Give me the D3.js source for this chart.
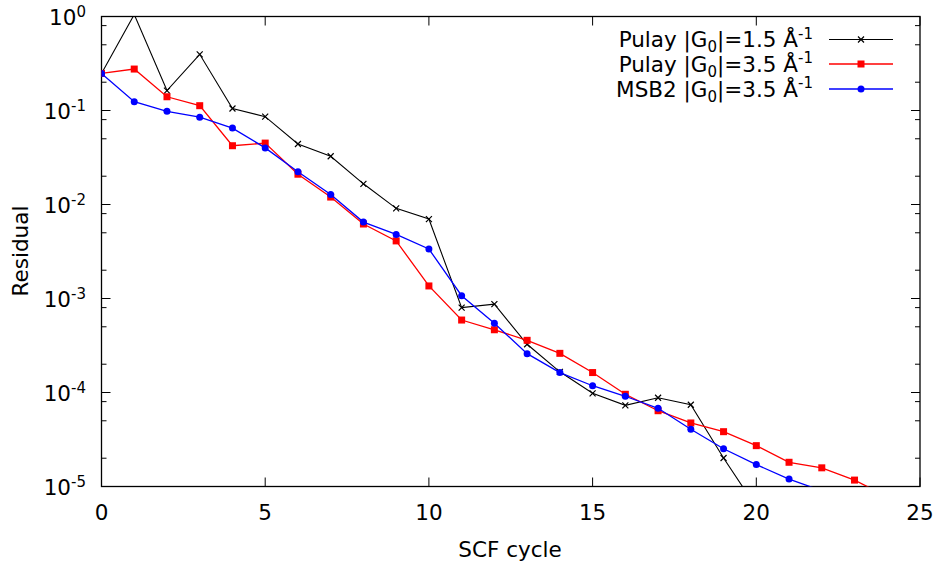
<!DOCTYPE html>
<html>
<head>
<meta charset="utf-8">
<script src="https://cdn.jsdelivr.net/npm/d3@7"></script>
<style>
  body { margin: 0; background: #fff; }
  svg { font-family: "DejaVu Sans", sans-serif; }
</style>
</head>
<body>
<div id="chart"></div>
<script>
// SCF residual convergence, log y
const cycles = d3.range(0, 25);
const pulay15 = [0.248, 1.05, 0.163, 0.396, 0.105, 0.086, 0.044, 0.0326, 0.0166, 0.0091, 0.0070,
  0.00080, 0.00087, 0.000326, 0.000166, 0.000098, 0.000073, 0.000088, 0.000074, 0.0000201, 0.000006];
const pulay35 = [0.248, 0.276, 0.140, 0.1125, 0.0422, 0.045, 0.021, 0.012, 0.0062, 0.0041, 0.00136,
  0.00059, 0.000465, 0.000359, 0.000261, 0.000163, 0.0000957, 0.000064, 0.0000474, 0.0000383,
  0.0000272, 0.0000181, 0.0000158, 0.0000117, 0.0000078];
const msb235 = [0.248, 0.124, 0.098, 0.085, 0.065, 0.040, 0.0223, 0.0128, 0.0065, 0.0048, 0.00336,
  0.00107, 0.000545, 0.000259, 0.000163, 0.000118, 0.0000912, 0.0000679, 0.0000406, 0.0000252,
  0.0000171, 0.000012, 0.000009];
const seriesNames = [["Pulay |G", "0", "|=1.5 Å", "-1"], ["Pulay |G", "0", "|=3.5 Å", "-1"], ["MSB2 |G", "0", "|=3.5 Å", "-1"]];
const seriesColors = ["#000000", "#ff0000", "#0000ff"];
const seriesMarks = ["cross", "square", "circle"];
const xTicks = [0, 5, 10, 15, 20, 25];
const yTicks = [0, -1, -2, -3, -4, -5];

const W = 940, H = 567;
const FS = '21.5px', FSS = '15px';
const m = { left: 101.5, right: 20, top: 16.5, bottom: 80.5 };
const x = d3.scaleLinear().domain([0, 25]).range([m.left, W - m.right]);
const y = d3.scaleLog().domain([1e-5, 1]).range([H - m.bottom, m.top]);

const svg = d3.select('#chart').append('svg').attr('width', W).attr('height', H);
svg.append('defs').append('clipPath').attr('id', 'clip').append('rect')
  .attr('x', x(0)).attr('y', y(1)).attr('width', x(25) - x(0)).attr('height', y(1e-5) - y(1));

const g = svg.append('g');
const x0 = x(0), x1 = x(25), yb = y(1e-5), yt = y(1);

// ticks: major inward 9px both sides, minor 5px at 2,5,8
xTicks.forEach(v => {
  g.append('line').attr('x1', x(v)).attr('x2', x(v)).attr('y1', yb).attr('y2', yb - 9).attr('stroke', '#000').attr('stroke-width', 1);
  g.append('line').attr('x1', x(v)).attr('x2', x(v)).attr('y1', yt).attr('y2', yt + 9).attr('stroke', '#000').attr('stroke-width', 1);
  g.append('text').attr('x', x(v)).attr('y', yb + 33).attr('text-anchor', 'middle').style('font-size', FS).text(v);
});
yTicks.forEach(e => {
  const v = Math.pow(10, e);
  [[x0, 9], [x1, -9]].forEach(([xx, l]) => {
    g.append('line').attr('x1', xx).attr('x2', xx + l).attr('y1', y(v)).attr('y2', y(v)).attr('stroke', '#000').attr('stroke-width', 1);
  });
  if (e > -5) {
    [2, 5, 8].forEach(k => {
      const mv = v / 10 * k;
      [[x0, 5], [x1, -5]].forEach(([xx, l]) => {
        g.append('line').attr('x1', xx).attr('x2', xx + l).attr('y1', y(mv)).attr('y2', y(mv)).attr('stroke', '#000').attr('stroke-width', 1);
      });
    });
  }
  const t = g.append('text').attr('x', 86).attr('y', y(v) + 8.5).attr('text-anchor', 'end').style('font-size', FS);
  t.append('tspan').text('10');
  t.append('tspan').attr('dy', -8.5).style('font-size', FSS).text(String(e));
});

// frame
g.append('rect').attr('x', x0).attr('y', yt).attr('width', x1 - x0).attr('height', yb - yt)
  .attr('fill', 'none').attr('stroke', '#000').attr('stroke-width', 1.3);

// axis titles
svg.append('text').attr('x', 510).attr('y', 557).attr('text-anchor', 'middle').style('font-size', FS).text('SCF cycle');
svg.append('text').attr('transform', 'translate(28,251) rotate(-90)').attr('text-anchor', 'middle').style('font-size', FS).text('Residual');

function drawMark(sel, kind, color, cx, cy) {
  if (kind === 'cross') {
    const s = 3;
    sel.append('path').attr('d', `M${cx - s},${cy - s}L${cx + s},${cy + s}M${cx - s},${cy + s}L${cx + s},${cy - s}`)
      .attr('stroke', color).attr('stroke-width', 1.2).attr('fill', 'none');
  } else if (kind === 'square') {
    sel.append('rect').attr('x', cx - 3.5).attr('y', cy - 3.5).attr('width', 7).attr('height', 7).attr('fill', color);
  } else {
    sel.append('circle').attr('cx', cx).attr('cy', cy).attr('r', 3.5).attr('fill', color);
  }
}

const plot = svg.append('g').attr('clip-path', 'url(#clip)');
const line = d3.line().x(d => x(d[0])).y(d => y(d[1]));
[pulay15, pulay35, msb235].forEach((vals, i) => {
  const pts = vals.map((v, k) => [cycles[k], v]);
  plot.append('path').datum(pts).attr('d', line).attr('fill', 'none')
    .attr('stroke', seriesColors[i]).attr('stroke-width', i === 0 ? 1.1 : 1.3);
  pts.filter(p => p[1] >= 1e-5 && p[1] <= 1).forEach(p => drawMark(plot, seriesMarks[i], seriesColors[i], x(p[0]), y(p[1])));
});

// legend
const legRows = [39.5, 64, 89];
seriesNames.forEach((parts, i) => {
  const ly = legRows[i];
  const t = svg.append('text').attr('x', 813).attr('y', ly + 7.5).attr('text-anchor', 'end').style('font-size', FS);
  t.append('tspan').text(parts[0]);
  t.append('tspan').attr('dy', 5).style('font-size', FSS).text(parts[1]);
  t.append('tspan').attr('dy', -5).text(parts[2]);
  t.append('tspan').attr('dy', -8.5).style('font-size', FSS).text(parts[3]);
  svg.append('line').attr('x1', 829).attr('x2', 893).attr('y1', ly).attr('y2', ly)
    .attr('stroke', seriesColors[i]).attr('stroke-width', i === 0 ? 1.1 : 1.3);
  drawMark(svg, seriesMarks[i], seriesColors[i], 861, ly);
});
</script>
</body>
</html>
